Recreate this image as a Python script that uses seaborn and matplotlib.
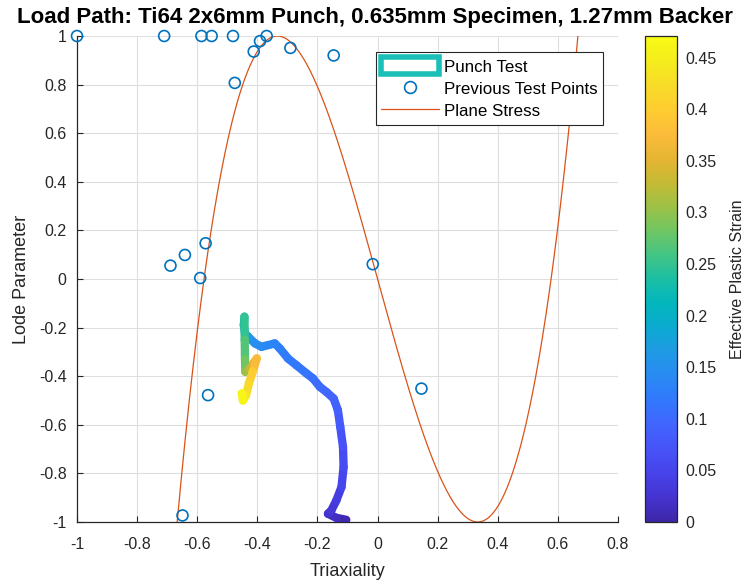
import numpy as np
import matplotlib
matplotlib.use("Agg")
import matplotlib.pyplot as plt
from matplotlib.collections import LineCollection
from matplotlib.colors import LinearSegmentedColormap, Normalize
from matplotlib.cm import ScalarMappable
from matplotlib.patches import Rectangle
from matplotlib.lines import Line2D
from matplotlib.ticker import FuncFormatter
import seaborn as sns

# ---- data -----------------------------------------------------------------
# Previous test points (stress triaxiality, Lode parameter)
prev_triax = [-1.000, -0.710, -0.586, -0.552, -0.481, -0.369, -0.391, -0.412,
              -0.290, -0.146, -0.475, -0.572, -0.641, -0.689, -0.590, -0.564,
              -0.649, -0.016, 0.146]
prev_lode = [1.000, 1.000, 1.000, 1.000, 1.000, 1.000, 0.979, 0.936,
             0.951, 0.920, 0.807, 0.147, 0.099, 0.055, 0.004, -0.478,
             -0.973, 0.061, -0.451]

# Punch test load path with effective plastic strain along it
punch_triax = [-0.104, -0.137, -0.165, -0.154, -0.137, -0.120, -0.113, -0.115,
               -0.124, -0.132, -0.146, -0.170, -0.192, -0.215, -0.236, -0.270,
               -0.298, -0.325, -0.342, -0.364, -0.386, -0.408, -0.430, -0.441,
               -0.445, -0.443, -0.442, -0.441, -0.440, -0.425, -0.412, -0.402,
               -0.415, -0.428, -0.438, -0.448, -0.452]
punch_lode = [-0.991, -0.983, -0.966, -0.953, -0.911, -0.856, -0.774, -0.691,
              -0.609, -0.540, -0.492, -0.465, -0.444, -0.409, -0.389, -0.355,
              -0.327, -0.286, -0.265, -0.272, -0.279, -0.265, -0.238, -0.224,
              -0.190, -0.155, -0.250, -0.330, -0.382, -0.370, -0.345, -0.327,
              -0.380, -0.430, -0.480, -0.500, -0.470]
punch_strain = [0.000, 0.010, 0.020, 0.025, 0.035, 0.045, 0.055, 0.065,
                0.075, 0.085, 0.090, 0.095, 0.100, 0.105, 0.110, 0.115,
                0.120, 0.125, 0.130, 0.135, 0.140, 0.145, 0.155, 0.170,
                0.200, 0.240, 0.260, 0.275, 0.290, 0.320, 0.340, 0.360,
                0.390, 0.410, 0.430, 0.450, 0.470]

strain_max = 0.471

x_ticks = [-1, -0.8, -0.6, -0.4, -0.2, 0, 0.2, 0.4, 0.6, 0.8]
y_ticks = [-1, -0.8, -0.6, -0.4, -0.2, 0, 0.2, 0.4, 0.6, 0.8, 1]
cbar_ticks = [0, 0.05, 0.1, 0.15, 0.2, 0.25, 0.3, 0.35, 0.4, 0.45]

title = "Load Path: Ti64 2x6mm Punch, 0.635mm Specimen, 1.27mm Backer"

# ---- style ----------------------------------------------------------------
sns.set_theme(style="white")
plt.rcParams["font.family"] = ["Liberation Sans", "DejaVu Sans"]
plt.rcParams["axes.unicode_minus"] = False

ink = (0.15, 0.15, 0.15)
blue = (0.0, 0.447, 0.741)
orange = (0.85, 0.325, 0.098)
teal = (0.10, 0.75, 0.72)

parula_pts = [
    (0.2422, 0.1504, 0.6603), (0.2691, 0.2044, 0.8171), (0.2780, 0.2612, 0.9204),
    (0.2775, 0.3282, 0.9735), (0.2540, 0.3970, 0.9956), (0.1966, 0.4716, 0.9902),
    (0.1590, 0.5423, 0.9521), (0.1246, 0.6035, 0.8940), (0.0460, 0.6670, 0.8190),
    (0.0070, 0.7150, 0.7400), (0.1080, 0.7470, 0.6440), (0.2620, 0.7720, 0.5210),
    (0.4400, 0.7760, 0.3860), (0.6180, 0.7590, 0.2720), (0.7750, 0.7280, 0.2050),
    (0.9010, 0.7100, 0.1990), (0.9860, 0.7370, 0.2290), (0.9940, 0.8030, 0.1910),
    (0.9700, 0.8600, 0.1600), (0.9580, 0.9270, 0.1110), (0.9769, 0.9839, 0.0805),
]
parula = LinearSegmentedColormap.from_list("parula", parula_pts, N=256)
norm = Normalize(vmin=0.0, vmax=strain_max)

fig = plt.figure(figsize=(7.48, 5.84), dpi=100)
ax = fig.add_axes([77 / 748, 62 / 584, 541 / 748, 486 / 584])

ax.grid(True, color="#dedede", linewidth=0.8)
ax.set_axisbelow(True)

# Plane stress relation between triaxiality and Lode parameter
ps_triax = np.linspace(-2 / 3, 2 / 3, 600)
ps_lode = 13.5 * ps_triax * (ps_triax ** 2 - 1 / 3)
sns.lineplot(x=ps_triax, y=ps_lode, sort=False, color=orange, linewidth=0.9,
             ax=ax, legend=False, zorder=2)

# Previous test points
sns.scatterplot(x=prev_triax, y=prev_lode, ax=ax, marker="o", s=62,
                facecolor="none", edgecolor=blue, linewidth=1.2, zorder=3,
                legend=False, clip_on=False)

# Punch test path coloured by effective plastic strain
pts = np.column_stack([punch_triax, punch_lode])
segs = np.stack([pts[:-1], pts[1:]], axis=1)
seg_strain = 0.5 * (np.array(punch_strain[:-1]) + np.array(punch_strain[1:]))
lc = LineCollection(segs, cmap=parula, norm=norm, linewidth=6,
                    capstyle="round", joinstyle="round", zorder=4)
lc.set_array(seg_strain)
ax.add_collection(lc)

ax.set_xlim(-1, 0.8)
ax.set_ylim(-1, 1)
ax.set_xticks(x_ticks)
ax.set_yticks(y_ticks)
fmt = FuncFormatter(lambda v, p: f"{v:g}")
ax.xaxis.set_major_formatter(fmt)
ax.yaxis.set_major_formatter(fmt)
ax.tick_params(direction="in", length=4, width=0.8, colors=ink,
               labelsize=11.5, bottom=True, left=True)
ax.tick_params(axis="x", pad=11)
ax.tick_params(axis="y", pad=7.5)
for side in ("top", "right"):
    ax.spines[side].set_visible(False)
for side in ("left", "bottom"):
    ax.spines[side].set_color(ink)
    ax.spines[side].set_linewidth(0.9)

ax.set_xlabel("Triaxiality", fontsize=13, color=ink, labelpad=8)
ax.set_ylabel("Lode Parameter", fontsize=13, color=ink, labelpad=6)

fig.text(375 / 748, 1 - 17 / 584, title, ha="center", va="center",
         fontsize=16, fontweight="bold", color="black")

# Legend
handles = [
    Rectangle((0, 0), 1, 1, facecolor="white", edgecolor=teal, linewidth=4),
    Line2D([], [], marker="o", linestyle="none", markerfacecolor="none",
           markeredgecolor=blue, markersize=8.5, markeredgewidth=1.2),
    Line2D([], [], color=orange, linewidth=0.9),
]
labels = ["Punch Test", "Previous Test Points", "Plane Stress"]
leg = ax.legend(handles, labels, loc="upper right",
                bbox_to_anchor=(0.972, 0.967), borderaxespad=0,
                fontsize=12.2, frameon=True, fancybox=False,
                handlelength=3.4, handleheight=1.2, handletextpad=0.3,
                labelspacing=0.3, borderpad=0.3, framealpha=1)
leg.get_frame().set_edgecolor(ink)
leg.get_frame().set_linewidth(0.8)
for t in leg.get_texts():
    t.set_color("black")

# Colorbar
cax = fig.add_axes([645 / 748, 62 / 584, 32 / 748, 486 / 584])
sm = ScalarMappable(norm=norm, cmap=parula)
cb = fig.colorbar(sm, cax=cax, ticks=cbar_ticks)
cb.ax.yaxis.set_major_formatter(fmt)
cb.ax.tick_params(direction="in", length=4, width=0.8, colors=ink,
                  labelsize=11.5, pad=6)
cb.outline.set_edgecolor(ink)
cb.outline.set_linewidth(0.9)
cb.set_label("Effective Plastic Strain", fontsize=11.5, color=ink, labelpad=10)

fig.savefig("out.png", dpi=100)
